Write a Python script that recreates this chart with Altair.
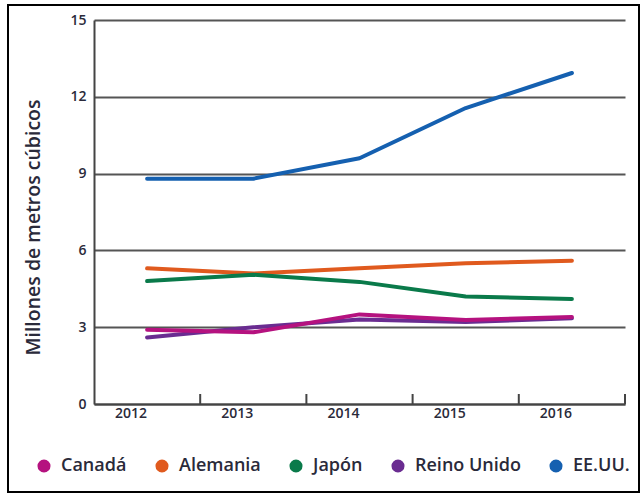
import altair as alt
import pandas as pd

years = ["2012", "2013", "2014", "2015", "2016"]
canada = [2.9, 2.8, 3.5, 3.28, 3.4]
alemania = [5.3, 5.1, 5.3, 5.5, 5.6]
japon = [4.8, 5.05, 4.77, 4.2, 4.1]
reino_unido = [2.6, 3.0, 3.3, 3.2, 3.35]
eeuu = [8.8, 8.8, 9.6, 11.56, 12.93]

countries = ["Canadá", "Alemania", "Japón", "Reino Unido", "EE.UU."]
colors = ["#b5127f", "#e05a1e", "#0a7a4a", "#6a2c91", "#1560b0"]
y_ticks = [0, 3, 6, 9, 12, 15]

series = {
    "EE.UU.": eeuu,
    "Alemania": alemania,
    "Japón": japon,
    "Reino Unido": reino_unido,
    "Canadá": canada,
}
rows = []
for k, vals in series.items():
    for yr, v in zip(years, vals):
        rows.append({"year": yr, "value": v, "country": k})
df = pd.DataFrame(rows)

FONT = "Open Sans"

x_scale = alt.Scale(domain=years, paddingInner=0, paddingOuter=0)
y_scale = alt.Scale(domain=[0, 15])
color_scale = alt.Scale(domain=countries, range=colors)

legend = alt.Legend(title=None, orient="none", legendX=-59, legendY=437,
                    direction="horizontal", columns=5, symbolType="circle",
                    symbolSize=170, symbolStrokeWidth=0, labelFont=FONT, labelFontSize=18,
                    labelFontWeight=600, labelColor="#2a2a3a", columnPadding=26,
                    labelOffset=8)

legend_layer = alt.Chart(df).mark_circle(opacity=1).encode(
    color=alt.Color("country:N", scale=color_scale, legend=legend),
).transform_filter("false")

lines = alt.Chart(df).mark_line(strokeWidth=4, strokeCap="round", strokeJoin="round").encode(
    x=alt.X("year:N", scale=x_scale, bandPosition=0.5,
            axis=alt.Axis(title=None, labelAngle=0, labelFont=FONT, labelFontSize=14,
                          labelFontWeight=600, labelColor="#2a2a3a", labelPadding=9,
                          ticks=False, domainColor="#444", domainWidth=2)),
    y=alt.Y("value:Q", scale=y_scale,
            axis=alt.Axis(title="Millones de metros cúbicos", values=y_ticks, ticks=False,
                          labelFont=FONT, labelFontSize=14, labelFontWeight=600,
                          labelColor="#2a2a3a", labelPadding=8,
                          titleFont=FONT, titleFontSize=19.5, titleFontWeight=600,
                          titleColor="#2a2a3a", titlePadding=26, titleY=207,
                          grid=True, gridColor="#555", gridWidth=2,
                          domainColor="#444", domainWidth=2)),
    color=alt.Color("country:N", scale=color_scale, legend=legend),
    detail="country:N",
)

tick_df = pd.DataFrame({"year": years})
ticks = alt.Chart(tick_df).mark_rule(color="#444", strokeWidth=2).encode(
    x=alt.X("year:N", scale=x_scale, bandPosition=1),
    y=alt.value(374),
    y2=alt.value(384),
)

frame_df = pd.DataFrame({"k": [0]})
frame = alt.Chart(frame_df).mark_rect(fill=None, stroke="black", strokeWidth=2).encode(
    x=alt.value(-86), x2=alt.value(545), y=alt.value(-15), y2=alt.value(472),
)

chart = alt.layer(legend_layer, ticks, lines, frame).properties(
    width=531, height=384,
    padding={"left": 94, "top": 20, "right": 18, "bottom": 91},
    autosize=alt.AutoSizeParams(type="none"),
    background="white",
).configure_view(stroke=None)

chart.save("out.html", embed_options={"renderer": "svg", "actions": False})
